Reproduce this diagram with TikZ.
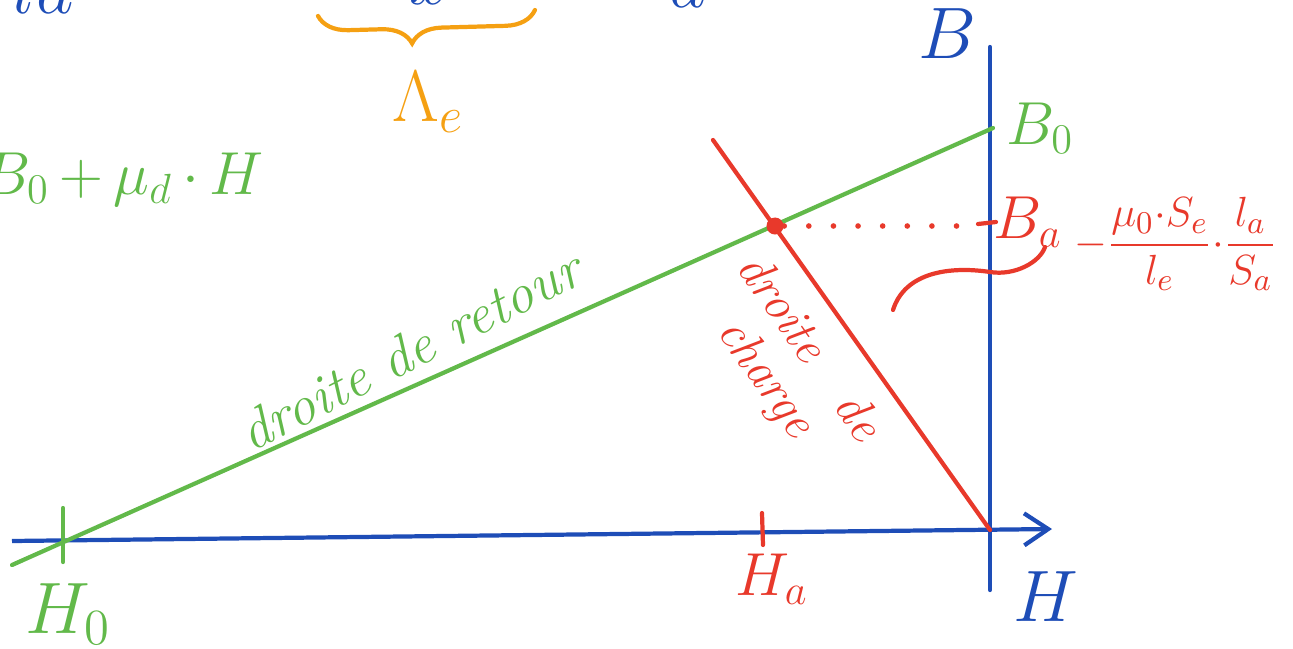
\documentclass[tikz,border=0pt]{standalone}
\usepackage{amsmath}
\usepackage{amssymb}
\usepackage{tikz}
\usetikzlibrary{arrows.meta,positioning,calc,decorations.pathreplacing}
\definecolor{axeB}{HTML}{1E4DB7}
\definecolor{retour}{HTML}{62B94A}
\definecolor{rouge}{HTML}{E8392B}
\definecolor{permo}{HTML}{F5A012}
\tikzset{
  trait/.style={line width=1.2pt, draw=#1, line cap=round},
  fleche/.style={-{Straight Barb[length=2.4mm, width=3.2mm, line width=1.2pt]}, line width=1.2pt, draw=#1},
  pointille/.style={line width=1.6pt, draw=#1, line cap=round, dash pattern=on 0pt off 7pt},
  lbl/.style={text=#1, inner sep=1pt, font=\fontsize{18}{21}\selectfont},
  gros/.style={text=#1, inner sep=1pt, font=\fontsize{21}{24}\selectfont},
  ecrit/.style={text=#1, inner sep=1pt, align=center, font=\fontsize{14}{15}\selectfont\itshape},
}

\begin{document}
\begin{tikzpicture}[x=0.01cm, y=-0.01cm]
  \path[use as bounding box] (0,0) rectangle (1293,648);
  \clip (0,0) rectangle (1293,648);
  % fragments coupes en haut
  \node[gros=axeB, anchor=base] (fa) at (44,13) {$la$};
  \node[gros=axeB, anchor=base] (fx) at (430,4) {$x$};
  \node[gros=axeB, anchor=base] (fq) at (688,7) {$a$};
  % axes
  \coordinate (Hg) at (12,541);
  \coordinate (Hd) at (1052,529);
  \coordinate (Bb) at (990,590);
  \coordinate (Bh) at (990,47);
  \draw[fleche=axeB] (Hg) -- (Hd);
  \draw[trait=axeB] (Bb) -- (Bh);
  \node[gros=axeB] (labB) at (947,34) {$B$};
  \node[gros=axeB] (labH) at (1046,597) {$H$};
  % droite de retour
  \coordinate (r0) at (12,565);
  \coordinate (r1) at (993,128);
  \draw[trait=retour] (r0) -- (r1);
  \coordinate (t0a) at (63,508);
  \coordinate (t0b) at (63,562);
  \draw[trait=retour] (t0a) -- (t0b);
  \node[gros=retour] (labH0) at (68,614) {$H_0$};
  \node[lbl=retour] (labB0) at (1040,128) {$B_0$};
  \node[gros=retour, anchor=east] (recul) at (268,180) {\fontsize{17}{20}\selectfont$B_0\,{+}\,\mu_d\,{\cdot}\,H$};
  \node[ecrit=retour, rotate=27, font=\fontsize{16}{18}\selectfont\itshape] (txtr) at (410,350) {droite de retour};
  % droite de charge
  \coordinate (c0) at (713,140);
  \coordinate (c1) at (990,530);
  \draw[trait=rouge] (c0) -- (c1);
  \node[circle, fill=rouge, inner sep=0pt, minimum size=0.17cm] (pt) at (775,226) {};
  \coordinate (Ba) at (978,226);
  \draw[pointille=rouge] (pt) -- (Ba);
  \coordinate (ta) at (978,224);
  \coordinate (tb) at (996,222);
  \draw[trait=rouge] (ta) -- (tb);
  \node[lbl=rouge] (labBa) at (1028,222) {$B_a$};
  \node[lbl=rouge, anchor=west] (pente) at (1070,244)
    {\fontsize{13}{15}\selectfont$-\dfrac{\mu_0{\cdot}S_e}{l_e}{\cdot}\dfrac{l_a}{S_a}$};
  \coordinate (s0) at (893,310);
  \coordinate (s1) at (1045,247);
  \draw[trait=rouge] (s0) .. controls (905,272) and (950,266) .. (990,272)
    .. controls (1015,276) and (1040,262) .. (s1);
  \coordinate (ha) at (762,513);
  \coordinate (hb) at (763,545);
  \draw[trait=rouge] (ha) -- (hb);
  \node[lbl=rouge] (labHa) at (772,579) {$H_a$};
  \node[ecrit=rouge, rotate=-55] (txtc) at (786,364) {droite\quad de\\charge};
  % accolade et permeance
  \coordinate (a0) at (318,16);
  \coordinate (a1) at (535,10);
  \draw[trait=permo, decorate, decoration={brace, mirror, amplitude=0.3cm, aspect=0.43}] (a0) -- (a1);
  \node[gros=permo] (lam) at (428,102) {$\Lambda_e$};
\end{tikzpicture}
\end{document}
